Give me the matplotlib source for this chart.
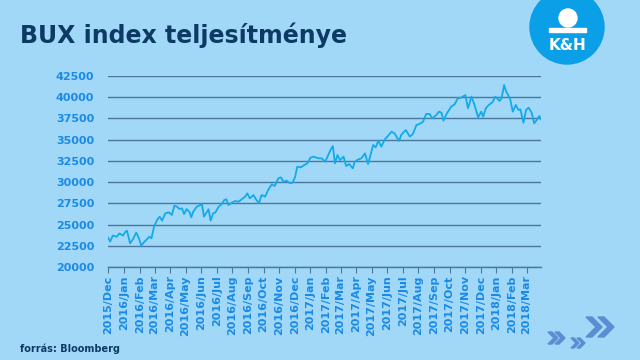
import numpy as np
import pandas as pd
import matplotlib
matplotlib.use("Agg")
import matplotlib.pyplot as plt
import matplotlib.dates as mdates
from matplotlib.patches import Circle, Polygon, Rectangle

# BUX closing values (approximate)
dates = [
    "2015-12-01", "2015-12-05", "2015-12-10", "2015-12-18", "2015-12-23", "2015-12-30",
    "2016-01-04", "2016-01-07", "2016-01-13", "2016-01-19", "2016-01-25", "2016-01-30",
    "2016-02-04", "2016-02-09", "2016-02-15", "2016-02-20", "2016-02-24", "2016-02-29",
    "2016-03-06", "2016-03-11", "2016-03-16", "2016-03-22", "2016-03-29",
    "2016-04-04", "2016-04-09", "2016-04-14", "2016-04-19", "2016-04-24", "2016-04-28",
    "2016-05-03", "2016-05-09", "2016-05-12", "2016-05-16", "2016-05-23", "2016-05-30",
    "2016-06-02", "2016-06-06", "2016-06-10", "2016-06-15", "2016-06-19", "2016-06-24", "2016-06-28",
    "2016-07-05", "2016-07-11", "2016-07-16", "2016-07-20", "2016-07-24", "2016-07-31",
    "2016-08-06", "2016-08-13", "2016-08-19", "2016-08-26", "2016-08-30",
    "2016-09-04", "2016-09-11", "2016-09-17", "2016-09-22", "2016-09-27",
    "2016-10-04", "2016-10-10", "2016-10-17", "2016-10-23", "2016-10-30",
    "2016-11-04", "2016-11-09", "2016-11-15", "2016-11-22", "2016-11-27",
    "2016-12-02", "2016-12-06", "2016-12-13", "2016-12-20", "2016-12-26",
    "2017-01-01", "2017-01-07", "2017-01-17", "2017-01-23", "2017-01-30",
    "2017-02-05", "2017-02-10", "2017-02-14", "2017-02-18", "2017-02-23", "2017-02-28",
    "2017-03-07", "2017-03-12", "2017-03-18", "2017-03-25", "2017-03-29",
    "2017-04-05", "2017-04-11", "2017-04-18", "2017-04-24", "2017-04-28",
    "2017-05-04", "2017-05-09", "2017-05-14", "2017-05-20", "2017-05-27",
    "2017-06-02", "2017-06-09", "2017-06-15", "2017-06-24", "2017-06-28",
    "2017-07-07", "2017-07-15", "2017-07-21", "2017-07-28",
    "2017-08-03", "2017-08-10", "2017-08-16", "2017-08-23", "2017-08-28",
    "2017-09-05", "2017-09-10", "2017-09-15", "2017-09-19", "2017-09-25",
    "2017-10-04", "2017-10-11", "2017-10-17", "2017-10-24",
    "2017-11-01", "2017-11-06", "2017-11-13", "2017-11-19", "2017-11-26",
    "2017-12-02", "2017-12-06", "2017-12-11", "2017-12-17", "2017-12-24", "2017-12-30",
    "2018-01-07", "2018-01-11", "2018-01-16", "2018-01-20", "2018-01-24", "2018-01-28",
    "2018-02-02", "2018-02-08", "2018-02-13", "2018-02-17", "2018-02-23", "2018-02-28",
    "2018-03-05", "2018-03-11", "2018-03-16", "2018-03-21", "2018-03-26", "2018-03-29",
]
bux = [
    23450, 23000, 23700, 23570, 23960, 23700,
    24160, 24280, 22790, 23300, 24050, 23450,
    22510, 22900, 23260, 23570, 23380, 24750,
    25540, 25930, 25460, 26320, 26440,
    26130, 27230, 27110, 26830, 26910, 26240,
    26830, 26440, 25850, 26520, 27110, 27300,
    27420, 25930, 26320, 26800, 25460, 26320, 26400,
    27110, 27420, 27900, 27970, 27300, 27580,
    27770, 27700, 27970, 28290, 28680,
    28090, 28480, 27900, 27500, 28480,
    28290, 29070, 29740, 29540, 30450,
    30560, 30050, 30170, 29860, 29940,
    30640, 31820, 31740, 32020, 32210,
    32880, 33000, 32800, 32800, 32410,
    33190, 33860, 34250, 32210, 33190, 32600,
    33000, 31900, 32130, 31620, 32410,
    32680, 32800, 33390, 32130, 33000,
    34370, 34100, 34880, 34180, 35040,
    35430, 35940, 35740, 34840, 35550,
    36140, 35360, 35670, 36730,
    36850, 37120, 38020, 38020, 37510,
    37910, 38300, 38180, 37240, 38020,
    38890, 39160, 39870, 39950,
    40260, 38690, 40070, 39090, 37630,
    38300, 37710, 38690, 39090, 39400, 40070,
    39560, 39870, 41440, 40660, 40260, 39750,
    38300, 39090, 38500, 38570, 37000, 38500,
    38770, 38180, 36920, 37320, 37790, 37400,
]
y_ticks = [20000, 22500, 25000, 27500, 30000, 32500, 35000, 37500, 40000, 42500]
title = "BUX index teljesítménye"
source = "forrás: Bloomberg"

bg = "#A1D8F7"
navy = "#0D3A64"
tick_blue = "#1A8AE6"
line_blue = "#13AAE9"
grid_col = "#4B76A0"

x = pd.to_datetime(dates)

fig = plt.figure(figsize=(6.4, 3.6), dpi=100, facecolor=bg)
ax = fig.add_axes([0.169, 0.2583, 0.676, 0.5306])
ax.set_facecolor(bg)

ax.plot(x, bux, color=line_blue, linewidth=1.3, zorder=3)

ax.set_ylim(20000, 42500)
ax.set_yticks(y_ticks)
ax.set_xlim(pd.Timestamp("2015-12-01"), pd.Timestamp("2018-03-29"))
ax.xaxis.set_major_locator(mdates.MonthLocator())
ax.xaxis.set_major_formatter(mdates.DateFormatter("%Y/%b"))

ax.grid(axis="y", color=grid_col, linewidth=1.0, zorder=1)
for s in ["top", "right", "left"]:
    ax.spines[s].set_visible(False)
ax.spines["bottom"].set_color(grid_col)
ax.spines["bottom"].set_linewidth(1.0)

ax.tick_params(axis="y", length=0, pad=10, labelsize=8, labelcolor=tick_blue)
ax.tick_params(axis="x", length=4, color=grid_col, pad=2, labelsize=8,
               labelcolor=tick_blue, labelrotation=90)
for lab in ax.get_xticklabels() + ax.get_yticklabels():
    lab.set_fontweight("bold")

fig.text(0.031, 0.902, title, fontsize=17, fontweight="bold", color=navy,
         va="center", ha="left")
fig.text(0.031, 0.030, source, fontsize=7, fontweight="bold", color=navy,
         va="center", ha="left")

# K&H logo
logo = fig.add_axes([0, 0, 1, 1], facecolor="none")
logo.set_xlim(0, 640)
logo.set_ylim(360, 0)
logo.axis("off")
logo.add_patch(Circle((567, 27), 37, color="#0A9FE6", zorder=1))
logo.add_patch(Circle((568, 18), 9, color="white", zorder=2))
logo.add_patch(Rectangle((549, 28), 37, 4, color="white", zorder=2))
logo.text(567, 46, "K&H", color="white", fontsize=11, fontweight="bold",
          ha="center", va="center", zorder=3)

# chevrons in the bottom right corner
chev = "#5A8ED2"
def chevron(cx, cy, w, h, t):
    pts = [(cx, cy - h), (cx + t, cy - h), (cx + t + w, cy), (cx + t, cy + h),
           (cx, cy + h), (cx + w, cy)]
    logo.add_patch(Polygon(pts, closed=True, color=chev, zorder=2))

for cx, cy, w, h, t in [(548, 338, 6, 6, 4), (555, 338, 6, 6, 4),
                        (571, 343, 5, 5, 3), (577, 343, 5, 5, 3),
                        (586, 327, 10, 10, 6), (598, 327, 10, 10, 6)]:
    chevron(cx, cy, w, h, t)

fig.savefig("out.png", dpi=100, facecolor=bg)
